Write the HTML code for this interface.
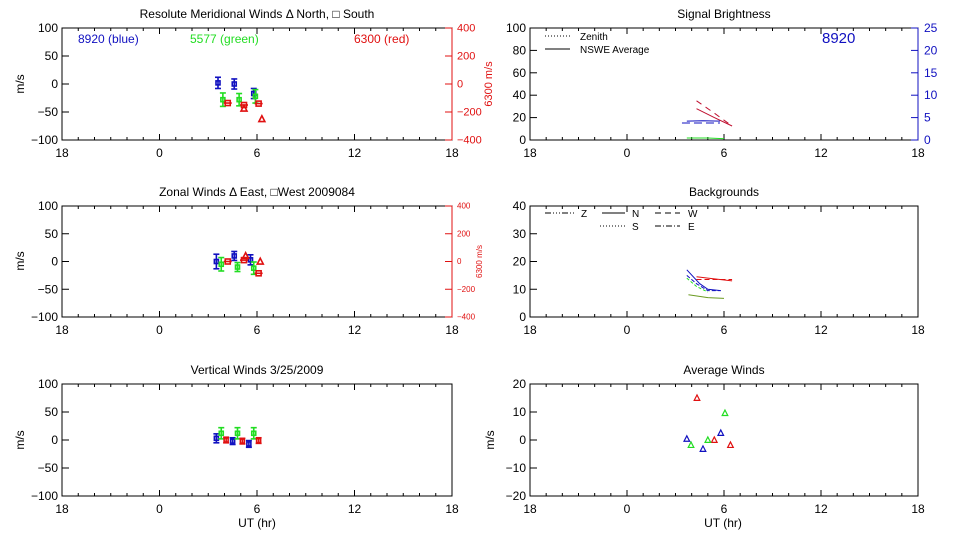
<!DOCTYPE html>
<html><head><meta charset="utf-8"><style>
html,body{margin:0;padding:0;background:#fff;}
svg{display:block;font-family:"Liberation Sans",sans-serif;}
</style></head><body>
<svg id="c" width="960" height="540" viewBox="0 0 960 540"></svg>
<script>
// ---- data ----
const merBlueH=[3.6,4.6,5.8], merBlueV=[2,0,-17], merBlueE=[10,9,9];
const merGreenH=[3.9,4.9,5.9], merGreenV=[-28,-28,-22], merGreenE=[12,11,12];
const merRedSqH=[4.2,5.2,6.1], merRedSqV=[-136,-150,-140];
const merRedTriH=[5.2,6.3], merRedTriV=[-175,-250];
const zonBlueH=[3.5,4.6,5.6], zonBlueV=[0,10,3], zonBlueE=[13,8,9];
const zonGreenH=[3.8,4.8,5.8], zonGreenV=[-5,-10,-12], zonGreenE=[12,8,11];
const zonRedSqH=[4.2,5.2,6.1], zonRedSqV=[0,10,-85];
const zonRedTriH=[5.3,6.2], zonRedTriV=[40,0];
const verBlueH=[3.5,4.5,5.5], verBlueV=[3,-2,-7];
const verGreenH=[3.8,4.8,5.8], verGreenV=[12,12,12];
const verRedH=[4.1,5.1,6.1], verRedV=[0,-2,-1];
const sigRedZenH=[4.3,5.4,6.5], sigRedZenV=[35,24,12.5];
const sigRedAvgH=[4.3,5.4,6.5], sigRedAvgV=[28,20,12.5];
const sigBlueAvgH=[3.7,4.7,5.75], sigBlueAvgV=[4.2,4.3,4.2];
const sigBlueZenH=[3.4,4.5,5.75], sigBlueZenV=[3.8,3.8,3.8];
const sigGreenH=[3.7,5.0,5.9,6.0], sigGreenV=[1.8,1.8,1.2,1.2];
const bgBlue1H=[3.7,4.5,5.0,5.8], bgBlue1V=[17,12,10,9.5];
const bgBlue2H=[3.7,4.3,5.0,5.8], bgBlue2V=[15,12,9.5,9.5];
const bgRed1H=[4.3,5.0,6.5], bgRed1V=[14.5,14,13];
const bgRed2H=[4.3,5.0,6.5], bgRed2V=[13.5,13.5,13.5];
const bgGreen1H=[3.7,4.3,5.0], bgGreen1V=[14,11,9];
const bgGreen2H=[3.8,5.0,6.0], bgGreen2V=[8,7,6.7];
const avgRedH=[4.33,5.4,6.4], avgRedV=[15,0,-1.8];
const avgGreenH=[6.06,5.0,3.96], avgGreenV=[9.6,0,-1.8];
const avgBlueH=[5.8,3.7,4.7], avgBlueV=[2.5,0.4,-3.2];
const xTicks=[-6,0,6,12,18], xTickLabels=["18","0","6","12","18"];

const S=document.getElementById('c'), NS='http://www.w3.org/2000/svg';
function el(tag,a,parent){const e=document.createElementNS(NS,tag);for(const k in a)e.setAttribute(k,a[k]);(parent||S).appendChild(e);return e;}
function txt(x,y,s,a){const e=el('text',Object.assign({x:x,y:y,'font-size':12,fill:'#000'},a||{}));e.textContent=s;return e;}
const BLUE='#1010c0',GREEN='#22dd22',RED='#e01010';

function panel(name,x0,x1,yTop,yBot,yMin,yMax,yStep,title){
  const g=el('g',{});
  
  
  const X=h=>x0+(h+6)/24*(x1-x0);
  const Y=v=>yBot-(v-yMin)/(yMax-yMin)*(yBot-yTop);
  el('rect',{x:x0,y:yTop,width:x1-x0,height:yBot-yTop,fill:'none',stroke:'#000','stroke-width':1},g);
  for(let h=-6;h<=18;h++){const maj=h%6===0,l=maj?6:3;
    el('line',{x1:X(h),x2:X(h),y1:yBot,y2:yBot-l,stroke:'#000'},g);
    el('line',{x1:X(h),x2:X(h),y1:yTop,y2:yTop+l,stroke:'#000'},g);}
  xTicks.forEach((h,i)=>{const t=txt(X(h),yBot+17,xTickLabels[i],{'text-anchor':'middle'});g.appendChild(t);});
  for(let v=yMin;v<=yMax+1e-9;v+=yStep){
    el('line',{x1:x0,x2:x0+7,y1:Y(v),y2:Y(v),stroke:'#000'},g);
    const t=txt(x0-4,Y(v)+4,String(v).replace('-','−'),{'text-anchor':'end'});g.appendChild(t);}
  const tt=txt((x0+x1)/2,yTop-10,title,{'text-anchor':'middle'});g.appendChild(tt);
  return {X,Y,g};
}
function errPts(p,H,V,E,col,name){H.forEach((h,i)=>{const x=p.X(h),y=p.Y(V[i]),e=E[i]*0.56;
  const gg=el('g',{},p.g);
  
  
  el('line',{x1:x,x2:x,y1:y-e,y2:y+e,stroke:col,'stroke-width':1.6},gg);
  el('line',{x1:x-3,x2:x+3,y1:y-e,y2:y-e,stroke:col,'stroke-width':1.6},gg);
  el('line',{x1:x-3,x2:x+3,y1:y+e,y2:y+e,stroke:col,'stroke-width':1.6},gg);
  el('rect',{x:x-2,y:y-2,width:4,height:4,fill:'none',stroke:col,'stroke-width':1.6},gg);});}
function sqPts(p,H,V,col,name){H.forEach((h,i)=>{const x=p.X(h),y=p.Y(V[i]);
  const r=el('rect',{x:x-2.5,y:y-2.5,width:5,height:5,fill:'none',stroke:col,'stroke-width':1.6},p.g);
  
  
  el('line',{x1:x-4,x2:x+4,y1:y,y2:y,stroke:col,'stroke-width':1.6},p.g);});}
function triPts(p,H,V,col,name,w,sz){const s=sz||3;H.forEach((h,i)=>{const x=p.X(h),y=p.Y(V[i]);
  const t=el('polygon',{points:`${x-s},${y+s*0.85} ${x+s},${y+s*0.85} ${x},${y-s*1.1}`,fill:'none',stroke:col,'stroke-width':w||1.6},p.g);
  
  });}
function line(p,H,V,col,dash,name,Yf){const pts=H.map((h,i)=>p.X(h)+','+(Yf||p.Y)(V[i])).join(' ');
  const l=el('polyline',{points:pts,fill:'none',stroke:col,'stroke-width':1,'stroke-dasharray':dash||'none'},p.g);
  
  }
function redAxis(x,yTop,yBot,fs,lblX){
  el('line',{x1:x,x2:x,y1:yTop,y2:yBot,stroke:RED});
  [400,200,0,-200,-400].forEach(v=>{const y=yBot-(v+400)/800*(yBot-yTop);
    el('line',{x1:x-7,x2:x,y1:y,y2:y,stroke:RED});
    const t=txt(x+5,y+fs/3,String(v).replace('-','−'),{fill:RED,'font-size':fs});
    
    });
  const t=txt(lblX,(yTop+yBot)/2,'6300 m/s',{fill:RED,'font-size':fs,'text-anchor':'middle',transform:`rotate(-90 ${lblX} ${(yTop+yBot)/2})`});
  
  
  return v=>yBot-(v+400)/800*(yBot-yTop);
}
function ylab(x,y,s){const t=txt(x,y,s,{'text-anchor':'middle',transform:`rotate(-90 ${x} ${y})`});
  
  }

// Panel 1
const p1=panel('meridional-panel',62,452,28,140,-100,100,50,'Resolute Meridional Winds Δ North, □ South');
ylab(24,84,'m/s');
const r1=redAxis(452,28,140,11,492);
txt(78,43,'8920 (blue)',{fill:BLUE});txt(190,43,'5577 (green)',{fill:GREEN});txt(354,43,'6300 (red)',{fill:RED});
errPts(p1,merBlueH,merBlueV,merBlueE,BLUE,'blue-point');
errPts(p1,merGreenH,merGreenV,merGreenE,GREEN,'green-point');
sqPts({X:p1.X,Y:r1,g:p1.g},merRedSqH,merRedSqV,RED,'red-square');
triPts({X:p1.X,Y:r1,g:p1.g},merRedTriH,merRedTriV,RED,'red-triangle');

// Panel 2
const p2=panel('zonal-panel',62,452,206,317,-100,100,50,'Zonal Winds Δ East, □West 2009084');
ylab(24,261,'m/s');
const r2=redAxis(452,206,317,8,482);
errPts(p2,zonBlueH,zonBlueV,zonBlueE,BLUE,'blue-point');
errPts(p2,zonGreenH,zonGreenV,zonGreenE,GREEN,'green-point');
sqPts({X:p2.X,Y:r2,g:p2.g},zonRedSqH,zonRedSqV,RED,'red-square');
triPts({X:p2.X,Y:r2,g:p2.g},zonRedTriH,zonRedTriV,RED,'red-triangle');

// Panel 3
const p3=panel('vertical-panel',62,452,384,496,-100,100,50,'Vertical Winds 3/25/2009');
ylab(24,440,'m/s');
errPts(p3,verBlueH,verBlueV,[8,6,6],BLUE,'blue-point');
errPts(p3,verGreenH,verGreenV,[10,10,10],GREEN,'green-point');
errPts(p3,verRedH,verRedV,[5,5,5],RED,'red-point');
txt(257,527,'UT (hr)',{'text-anchor':'middle'});

// Panel 4
const p4=panel('brightness-panel',530,918,28,140,0,100,20,'Signal Brightness');
const b4=v=>140-v/25*112;
el('line',{x1:918,x2:918,y1:28,y2:140,stroke:BLUE});
for(let v=0;v<=25;v+=5){el('line',{x1:911,x2:918,y1:b4(v),y2:b4(v),stroke:BLUE});
  const t=txt(924,b4(v)+4,String(v),{fill:BLUE});
  
  }
el('line',{x1:545,x2:570,y1:36,y2:36,stroke:'#000','stroke-dasharray':'1 2'});txt(580,40,'Zenith',{'font-size':10});
el('line',{x1:545,x2:570,y1:49,y2:49,stroke:'#000'});txt(580,53,'NSWE Average',{'font-size':10});
txt(822,43,'8920',{fill:BLUE,'font-size':15});
line(p4,sigRedZenH,sigRedZenV,'#c01030','6 5','red-zenith-line');
line(p4,sigRedAvgH,sigRedAvgV,'#c01030','','red-average-line');
line(p4,sigBlueAvgH,sigBlueAvgV,BLUE,'','blue-average-line',b4);
line(p4,sigBlueZenH,sigBlueZenV,BLUE,'8 4','blue-zenith-line',b4);
line(p4,sigGreenH,sigGreenV,GREEN,'','green-line');

// Panel 5
const p5=panel('backgrounds-panel',530,918,206,317,0,40,10,'Backgrounds');
el('line',{x1:545,x2:575,y1:213,y2:213,stroke:'#000','stroke-dasharray':'6 2 1 2 1 2 1 2'});txt(581,217,'Z',{'font-size':10});
el('line',{x1:602,x2:625,y1:213,y2:213,stroke:'#000'});txt(632,217,'N',{'font-size':10});
el('line',{x1:655,x2:680,y1:213,y2:213,stroke:'#000','stroke-dasharray':'6 4'});txt(688,217,'W',{'font-size':10});
el('line',{x1:600,x2:625,y1:226,y2:226,stroke:'#000','stroke-dasharray':'1 2'});txt(632,230,'S',{'font-size':10});
el('line',{x1:655,x2:680,y1:226,y2:226,stroke:'#000','stroke-dasharray':'6 2 1 2'});txt(688,230,'E',{'font-size':10});
line(p5,bgBlue1H,bgBlue1V,BLUE,'','blue-bg-n');
line(p5,bgBlue2H,bgBlue2V,BLUE,'4 2','blue-bg-w');
line(p5,bgRed1H,bgRed1V,RED,'','red-bg-n');
line(p5,bgRed2H,bgRed2V,RED,'5 3','red-bg-w');
line(p5,bgGreen1H,bgGreen1V,GREEN,'3 2','green-bg-z');
line(p5,bgGreen2H,bgGreen2V,'#6a9a20','','green-bg-n');

// Panel 6
const p6=panel('average-winds-panel',530,918,384,496,-20,20,10,'Average Winds');
ylab(494,440,'m/s');
triPts(p6,avgRedH,avgRedV,RED,'red-avg-triangle',1.2,2.8);
triPts(p6,avgGreenH,avgGreenV,GREEN,'green-avg-triangle',1.2,2.8);
triPts(p6,avgBlueH,avgBlueV,BLUE,'blue-avg-triangle',1.2,2.8);
txt(723,527,'UT (hr)',{'text-anchor':'middle'});
</script>
</body></html>
